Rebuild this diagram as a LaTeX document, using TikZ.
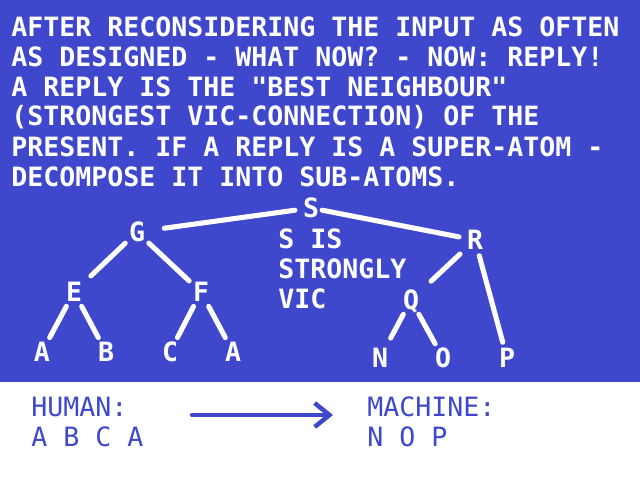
\documentclass[tikz,border=0pt]{standalone}
\usepackage{fontspec}
\newfontfamily\screenfont{DejaVu Sans Mono}
\usetikzlibrary{arrows.meta}

\begin{document}
\begin{tikzpicture}[x=0.025cm, y=-0.025cm, line cap=round, line join=round]

  % Colors (screen blue + white)
  \definecolor{screenB}{RGB}{63,72,204}

  \tikzset{
    txt/.style={anchor=base west, inner sep=0pt, text=white, font=\screenfont\bfseries\fontsize{18.9pt}{21.3pt}\selectfont},
    low/.style={txt, text=screenB, font=\screenfont\fontsize{18.9pt}{21.3pt}\selectfont},
    leaf/.style={circle, inner sep=0pt, minimum size=0.8cm, text height=13.8pt, text depth=0pt, text=white, font=\screenfont\bfseries\fontsize{18.9pt}{21.3pt}\selectfont},
    branch/.style={draw=white, line width=3.6pt},
    flow/.style={-{Straight Barb[length=10.5pt,width=17pt]}, draw=screenB, line width=3.2pt},
  }

  % --- Screen
  \fill[screenB] (0,0) rectangle (640,382);
  \fill[white] (0,382) rectangle (640,480);
  \useasboundingbox (0,0) rectangle (640,480);

  % --- Top: message
  \foreach \line [count=\i] in {{AFTER RECONSIDERING THE INPUT AS OFTEN}, {AS DESIGNED - WHAT NOW? - NOW: REPLY!}, {A REPLY IS THE "BEST NEIGHBOUR"}, {(STRONGEST VIC-CONNECTION) OF THE}, {PRESENT. IF A REPLY IS A SUPER-ATOM -}, {DECOMPOSE IT INTO SUB-ATOMS.}}
    \node[txt] (msg\i) at (11, 6+30*\i) {\line};

  \foreach \line [count=\i] in {{S IS}, {STRONGLY}, {VIC}}
    \node[txt] (note\i) at (278, 218+30*\i) {\line};

  % --- Tree
  \node[leaf] (nS) at (311,208) {S};
  \node[leaf] (nG) at (137,232) {G};
  \node[leaf] (nR) at (475,240) {R};
  \node[leaf] (nE) at (74,292) {E};
  \node[leaf] (nF) at (201,292) {F};
  \node[leaf] (nQ) at (411,300) {Q};
  \node[leaf] (nA) at (42,352) {A};
  \node[leaf] (nB) at (106,352) {B};
  \node[leaf] (nC) at (170,352) {C};
  \node[leaf] (nA2) at (233,352) {A};
  \node[leaf] (nN) at (380,358) {N};
  \node[leaf] (nO) at (443,358) {O};
  \node[leaf] (nP) at (507,358) {P};

  \draw[branch, shorten >=8pt] (nS) -- (nG);
  \draw[branch, shorten <=-3.5pt] (nS) -- (nR);
  \draw[branch, shorten >=5pt] (nG) -- (nE);
  \draw[branch] (nG) -- (nF);
  \draw[branch] (nE) -- (nA);
  \draw[branch] (nE) -- (nB);
  \draw[branch] (nF) -- (nC);
  \draw[branch] (nF) -- (nA2);
  \draw[branch, shorten <=3pt, shorten >=8pt] (nR) -- (nQ);
  \draw[branch] (nR) -- (nP);
  \draw[branch, shorten >=4.5pt] (nQ) -- (nN);
  \draw[branch] (nQ) -- (nO);

  % --- Bottom: human vs machine
  \node[low] (human) at (31,416) {HUMAN:};
  \node[low] (humanSeq) at (31,446) {A B C A};
  \node[low] (machine) at (367,416) {MACHINE:};
  \node[low] (machineSeq) at (367,446) {N O P};

  \coordinate (flowS) at (192,415);
  \coordinate (flowE) at (333,415);
  \draw[flow] (flowS) -- (flowE);

\end{tikzpicture}
\end{document}
